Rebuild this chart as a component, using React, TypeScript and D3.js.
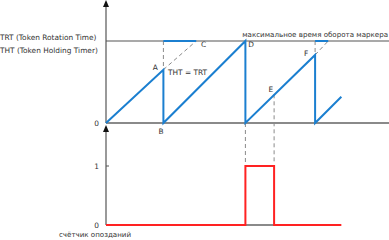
import React from "react";
import * as d3 from "d3";

// time points (arbitrary units, TRT = 1)
const sawTimes = [0, 0.7, 0.7, 1.7, 1.7, 2.55, 2.55, 2.87];
const sawValues = [0, 0.65, 0, 1, 0, 0.83, 0, 0.32];
const capC = [0.7, 1.1];
const capF = [2.55, 2.71];
const pointLabels = ["A", "B", "C", "D", "E", "F"];
const pointTimes = [0.6, 0.67, 1.19, 1.77, 2.01, 2.44];
const pointValues = [0.68, -0.1, 0.96, 0.96, 0.42, 0.85];
const eventT = [1.7, 2.05];
const lateTimes = [0, 1.7, 1.7, 2.05, 2.05, 2.87];
const lateValues = [0, 0, 1, 1, 0, 0];
const yLabelsTop = ["TRT (Token Rotation Time)", "THT (Token Holding Timer)"];
const maxLabel = "максимальное время оборота маркера";
const eqLabel = "THT = TRT";
const counterLabel = "счётчик опозданий";

export default function App() {
  const W = 389, H = 240;
  const x = d3.scaleLinear().domain([0, 1]).range([106, 188]);
  const yT = d3.scaleLinear().domain([0, 1]).range([123, 41]);
  const yB = d3.scaleLinear().domain([0, 1]).range([225, 166]);
  const blue = "#1b7fd0";
  const gray = "#8a8a8a";
  const dark = "#555";
  const font = "DejaVu Sans, Verdana, sans-serif";
  const line = d3.line<number>();
  const saw = line(sawTimes.map((t, i) => [x(t), yT(sawValues[i])] as any) as any);
  const late = line(lateTimes.map((t, i) => [x(t), yB(lateValues[i])] as any) as any);
  const eVal = sawValues[4] + (eventT[1] - sawTimes[4]);
  return (
    <svg width={W} height={H} style={{ position: "absolute", left: 0, top: 0 }}>
      <rect width={W} height={H} fill="#fff" />
      {/* top axis */}
      <line x1={106} x2={106} y1={6} y2={123} stroke={dark} strokeWidth={1.2} />
      <path d="M106,0 L103,7 L109,7 Z" fill="#111" />
      <line x1={106} x2={389} y1={yT(1)} y2={yT(1)} stroke={dark} strokeWidth={1.2} />
      <line x1={106} x2={389} y1={yT(0)} y2={yT(0)} stroke={gray} strokeWidth={2} />
      {/* bottom axis */}
      <line x1={106} x2={106} y1={131} y2={225} stroke={dark} strokeWidth={1.2} />
      <path d="M106,125 L103,132 L109,132 Z" fill="#111" />
      <line x1={106} x2={109} y1={yB(1)} y2={yB(1)} stroke={dark} strokeWidth={1} />
      <line x1={x(eventT[0])} x2={x(eventT[1])} y1={yB(0)} y2={yB(0)} stroke={gray} strokeWidth={2} />
      {/* dashed guides */}
      <g stroke={gray} strokeWidth={1} strokeDasharray="4,3" fill="none">
        <line x1={x(capC[0])} x2={x(capC[0])} y1={yT(1)} y2={yT(sawValues[1])} />
        <line x1={x(capC[0])} x2={x(capC[1])} y1={yT(sawValues[1])} y2={yT(1)} />
        <line x1={x(capF[0])} x2={x(capF[0])} y1={yT(1)} y2={yT(sawValues[5])} />
        <line x1={x(capF[0])} x2={x(capF[1])} y1={yT(sawValues[5])} y2={yT(1)} />
        <line x1={x(eventT[0])} x2={x(eventT[0])} y1={yT(0)} y2={163} />
        <line x1={x(eventT[1])} x2={x(eventT[1])} y1={yT(eVal)} y2={163} />
      </g>
      {/* sawtooth */}
      <path d={saw ?? ""} fill="none" stroke={blue} strokeWidth={2} />
      <line x1={x(capC[0])} x2={x(capC[1])} y1={yT(1)} y2={yT(1)} stroke={blue} strokeWidth={2} />
      <line x1={x(capF[0])} x2={x(capF[1])} y1={yT(1)} y2={yT(1)} stroke={blue} strokeWidth={2} />
      {/* late counter */}
      <path d={late ?? ""} fill="none" stroke="#f22" strokeWidth={2} />
      {/* texts */}
      <g fontFamily={font} fontSize={7.4} fill="#333">
        <text x={0} y={40}>{yLabelsTop[0]}</text>
        <text x={0} y={53}>{yLabelsTop[1]}</text>
        <text x={388} y={37} textAnchor="end" fontSize={7.1}>{maxLabel}</text>
        <text x={168} y={75}>{eqLabel}</text>
        <text x={99} y={126} textAnchor="end">0</text>
        <text x={99} y={yB(1) + 3} textAnchor="end">1</text>
        <text x={99} y={yB(0) + 3} textAnchor="end">0</text>
        <text x={95} y={237} textAnchor="middle" fontSize={7.1}>{counterLabel}</text>
        {pointLabels.map((l, i) => (
          <text key={l} x={x(pointTimes[i])} y={yT(pointValues[i]) + 3} textAnchor="middle">{l}</text>
        ))}
      </g>
    </svg>
  );
}
